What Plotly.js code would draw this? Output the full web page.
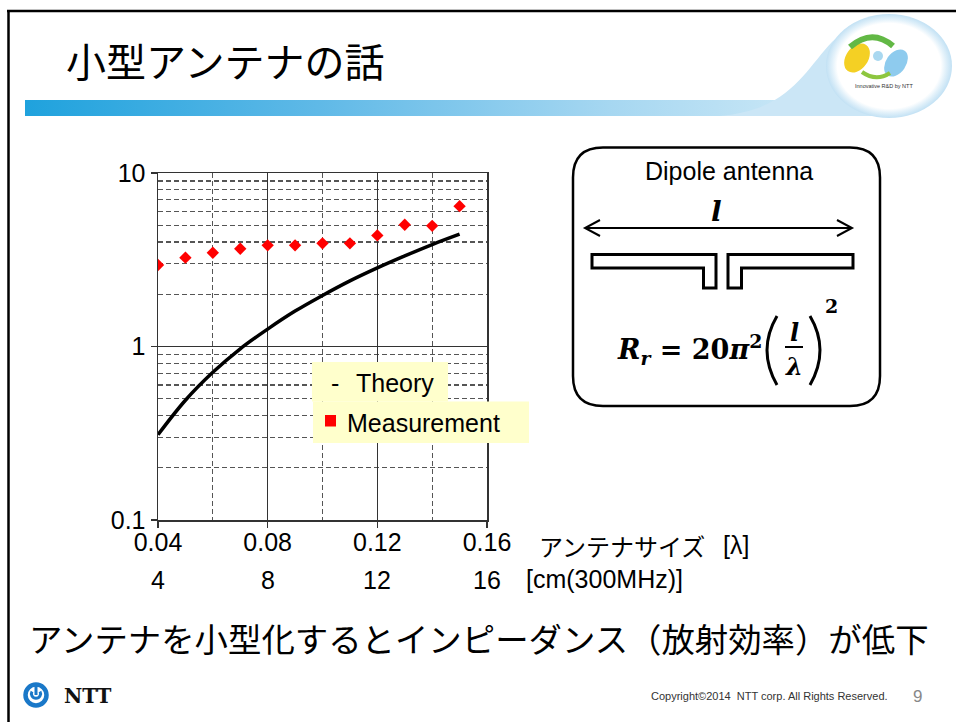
<!DOCTYPE html>
<html>
<head>
<meta charset="utf-8">
<script src="https://cdn.plot.ly/plotly-3.0.1.min.js"></script>
<style>html,body{margin:0;padding:0;background:#fff;}#chart{width:956px;height:722px;}</style>
</head>
<body>
<div id="chart"></div>
<script>
// ---------- data ----------
const sizeLambda = [0.04, 0.05, 0.06, 0.07, 0.08, 0.09, 0.10, 0.11, 0.12, 0.13, 0.14, 0.15];
const theoryR    = [0.31, 0.49, 0.71, 0.97, 1.26, 1.60, 1.97, 2.39, 2.84, 3.33, 3.87, 4.44];
const measuredR  = [2.95, 3.25, 3.47, 3.66, 3.83, 3.83, 3.93, 3.93, 4.37, 5.03, 4.96, 6.44];
const xTickVals  = [0.04, 0.08, 0.12, 0.16];
const xTickText  = ['0.04', '0.08', '0.12', '0.16'];
const cmTickText = ['4', '8', '12', '16'];
const xMinorVals = [0.06, 0.10, 0.14];
const yTickVals  = [0.1, 1, 10];
const yTickText  = ['0.1', '1', '10'];
const yMinorVals = [0.2, 0.3, 0.4, 0.5, 0.6, 0.7, 0.8, 0.9, 2, 3, 4, 5, 6, 7, 8, 9];
const seriesNames = ['Theory', 'Measurement'];
const titleText = '小型アンテナの話';
const bottomText = 'アンテナを小型化するとインピーダンス（放射効率）が低下';

// ---------- geometry helpers (pixel -> paper) ----------
const W = 956, H = 722, L = 158, T = 173, PW = 329, PH = 347;
const px = x => (x - L) / PW;
const py = y => (T + PH - y) / PH;
const P = (x, y) => px(x).toFixed(5) + ',' + py(y).toFixed(5);

const SANS = 'Liberation Sans, Arial, sans-serif';
const CJK = 'Noto Sans CJK JP, sans-serif';

// ---------- decorative images ----------
const headerSvg = `<svg xmlns="http://www.w3.org/2000/svg" width="956" height="130" viewBox="0 0 956 130">
<defs>
<linearGradient id="bar" x1="0" y1="0" x2="1" y2="0">
<stop offset="0" stop-color="#1fa2dd"/><stop offset="0.35" stop-color="#5fb9e7"/>
<stop offset="0.7" stop-color="#a6d7f1"/><stop offset="1" stop-color="#d4ecf8"/></linearGradient>
<radialGradient id="halo" cx="0.5" cy="0.5" r="0.5">
<stop offset="0.82" stop-color="#ffffff"/><stop offset="0.9" stop-color="#e2f1fa"/><stop offset="1" stop-color="#c2e1f4"/></radialGradient>
</defs>
<rect x="25" y="100" width="835" height="16" fill="url(#bar)"/>
<path d="M 720 116 C 790 110 805 70 832 42 C 850 24 872 16 892 16 L 900 116 Z" fill="#cbe6f6"/>
<ellipse cx="889" cy="66" rx="63" ry="52" fill="url(#halo)"/>
<ellipse cx="857" cy="58" rx="11" ry="16" transform="rotate(35 857 58)" fill="#f4d024"/>
<path d="M 850 47 Q 872 28 893 46" stroke="#62b845" stroke-width="6" fill="none"/>
<ellipse cx="896" cy="63" rx="10" ry="15" transform="rotate(35 896 63)" fill="#8ecbee"/>
<path d="M 862 72 Q 876 82 890 73" stroke="#8dc63f" stroke-width="4" fill="none"/>
<circle cx="878" cy="56" r="5" fill="#a9d8f0"/>
</svg>`;
const nttSvg = `<svg xmlns="http://www.w3.org/2000/svg" width="40" height="40" viewBox="0 0 40 40">
<circle cx="16" cy="19" r="10.5" stroke="#1a78c8" stroke-width="4.5" fill="none"/>
<path d="M 12 15.5 A 4.6 4.6 0 1 0 20 15.5" stroke="#1a78c8" stroke-width="3" fill="none"/>
<line x1="16" y1="8.5" x2="16" y2="19" stroke="#1a78c8" stroke-width="3"/>
</svg>`;
const uri = s => 'data:image/svg+xml;charset=utf-8,' + encodeURIComponent(s);

// ---------- traces ----------
const traces = [
  {x: sizeLambda, y: theoryR, name: seriesNames[0], type: 'scatter', mode: 'lines',
   line: {color: '#000', width: 3.5, shape: 'spline'}, hoverinfo: 'x+y'},
  {x: sizeLambda, y: measuredR, name: seriesNames[1], type: 'scatter', mode: 'markers',
   marker: {symbol: 'diamond', size: 9.5, color: '#ff0000', line: {width: 0}}, hoverinfo: 'x+y'}
];

// ---------- shapes ----------
const shapes = [];
// slide frame
shapes.push({type: 'line', xref: 'paper', yref: 'paper', x0: px(7), x1: px(956), y0: py(11), y1: py(11), line: {color: '#000', width: 2.5}});
shapes.push({type: 'line', xref: 'paper', yref: 'paper', x0: px(8.5), x1: px(8.5), y0: py(10), y1: py(722), line: {color: '#000', width: 2.5}});
// legend boxes
shapes.push({type: 'rect', xref: 'paper', yref: 'paper', x0: px(312), x1: px(448), y0: py(362), y1: py(401.5), fillcolor: '#ffffcc', line: {width: 0}, layer: 'above'});
shapes.push({type: 'rect', xref: 'paper', yref: 'paper', x0: px(313), x1: px(529), y0: py(401.5), y1: py(443), fillcolor: '#ffffcc', line: {width: 0}, layer: 'above'});
shapes.push({type: 'rect', xref: 'paper', yref: 'paper', x0: px(325), x1: px(336), y0: py(415), y1: py(426.5), fillcolor: '#ff0000', line: {width: 0}, layer: 'above'});
// dipole box (rounded rect)
(function () {
  const x0 = 573, x1 = 880, y0 = 147.5, y1 = 406, r = 30;
  const d = `M ${P(x0 + r, y0)} L ${P(x1 - r, y0)} Q ${P(x1, y0)} ${P(x1, y0 + r)} L ${P(x1, y1 - r)} Q ${P(x1, y1)} ${P(x1 - r, y1)} L ${P(x0 + r, y1)} Q ${P(x0, y1)} ${P(x0, y1 - r)} L ${P(x0, y0 + r)} Q ${P(x0, y0)} ${P(x0 + r, y0)} Z`;
  shapes.push({type: 'path', xref: 'paper', yref: 'paper', path: d, line: {color: '#000', width: 2.5}, fillcolor: 'rgba(0,0,0,0)'});
})();
// arrow
shapes.push({type: 'path', xref: 'paper', yref: 'paper', path: `M ${P(585, 228)} L ${P(852, 228)}`, line: {color: '#000', width: 2}});
shapes.push({type: 'path', xref: 'paper', yref: 'paper', path: `M ${P(600, 220)} L ${P(585, 228)} L ${P(600, 236)}`, line: {color: '#000', width: 2}});
shapes.push({type: 'path', xref: 'paper', yref: 'paper', path: `M ${P(837, 220)} L ${P(852, 228)} L ${P(837, 236)}`, line: {color: '#000', width: 2}});
// dipole arms
shapes.push({type: 'path', xref: 'paper', yref: 'paper',
  path: `M ${P(592, 254.5)} L ${P(716, 254.5)} L ${P(716, 288)} L ${P(703.5, 288)} L ${P(703.5, 268)} L ${P(592, 268)} Z`,
  line: {color: '#000', width: 3}, fillcolor: '#fff'});
shapes.push({type: 'path', xref: 'paper', yref: 'paper',
  path: `M ${P(728, 254.5)} L ${P(853, 254.5)} L ${P(853, 268)} L ${P(741.5, 268)} L ${P(741.5, 288)} L ${P(728, 288)} Z`,
  line: {color: '#000', width: 3}, fillcolor: '#fff'});
// formula parentheses and fraction bar
shapes.push({type: 'path', xref: 'paper', yref: 'paper', path: `M ${P(777, 316)} Q ${P(757, 350)} ${P(777, 385)}`, line: {color: '#000', width: 3}});
shapes.push({type: 'path', xref: 'paper', yref: 'paper', path: `M ${P(810, 316)} Q ${P(830, 350)} ${P(810, 385)}`, line: {color: '#000', width: 3}});
shapes.push({type: 'line', xref: 'paper', yref: 'paper', x0: px(785), x1: px(803), y0: py(347), y1: py(347), line: {color: '#000', width: 2}});

// ---------- annotations ----------
function txt(text, x, y, size, opts) {
  return Object.assign({text: text, xref: 'paper', yref: 'paper', x: px(x), y: py(y), showarrow: false,
    xanchor: 'left', yanchor: 'middle', font: {family: SANS, size: size, color: '#000'}}, opts || {});
}
const annotations = [
  txt(titleText, 64, 60, 40, {font: {family: CJK, size: 40, color: '#000'}}),
  txt(bottomText, 27, 637, 33.4, {font: {family: CJK, size: 33.4, color: '#000'}}),
  // legend texts
  txt('-', 329, 383, 25),
  txt(seriesNames[0], 354, 383, 25),
  txt(seriesNames[1], 345, 423, 25),
  // axis extra labels
  txt('アンテナサイズ', 537, 545, 24, {font: {family: CJK, size: 24, color: '#000'}}),
  txt('[λ]', 721, 545, 25),
  txt('[cm(300MHz)]', 524, 579, 25),
  // dipole panel
  txt('Dipole antenna', 728.5, 171, 25, {xanchor: 'center'}),
  txt('<b><i>l</i></b>', 716, 211, 28, {xanchor: 'center', font: {family: 'DejaVu Serif, serif', size: 28, color: '#000'}}),
  txt('<b><i>R<sub>r</sub></i> = 20<i>π</i><sup>2</sup></b>', 764, 349, 27, {xanchor: 'right', font: {family: 'DejaVu Serif, serif', size: 27, color: '#000'}}),
  txt('<b><i>l</i></b>', 794, 332, 24, {xanchor: 'center', font: {family: 'DejaVu Serif, serif', size: 24, color: '#000'}}),
  txt('<b><i>λ</i></b>', 794, 366, 24, {xanchor: 'center', font: {family: 'DejaVu Serif, serif', size: 24, color: '#000'}}),
  txt('<b>2</b>', 831, 306, 19, {xanchor: 'center', font: {family: 'DejaVu Serif, serif', size: 19, color: '#000'}}),
  // logo / footer
  txt('Innovative R&D by NTT', 884, 86, 5.5, {xanchor: 'center', font: {family: SANS, size: 5.5, color: '#333'}}),
  txt('<b>NTT</b>', 62, 696, 20, {font: {family: 'DejaVu Serif, serif', size: 20, color: '#111'}}),
  txt('Copyright©2014  NTT corp. All Rights Reserved.', 649, 696, 11, {font: {family: 'Liberation Sans Narrow, Liberation Sans, sans-serif', size: 11, color: '#333'}}),
  txt('9', 917, 696, 17, {xanchor: 'center', font: {family: SANS, size: 17, color: '#888'}})
];
// second row of x labels (cm at 300 MHz)
xTickVals.forEach((v, i) => {
  annotations.push({text: cmTickText[i], xref: 'x', yref: 'paper', x: v, y: py(580), showarrow: false,
    xanchor: 'center', yanchor: 'middle', font: {family: SANS, size: 25, color: '#000'}});
});

// ---------- layout ----------
const layout = {
  width: W, height: H, autosize: false,
  margin: {l: L, r: W - L - PW, t: T, b: H - T - PH, pad: 0},
  paper_bgcolor: '#fff', plot_bgcolor: '#fff',
  showlegend: false,
  xaxis: {
    type: 'linear', range: [0.04, 0.16], tickmode: 'array', tickvals: xTickVals, ticktext: xTickText,
    ticks: 'outside', ticklen: 6, tickwidth: 1.5, tickcolor: '#333', ticklabelstandoff: -7,
    showline: true, mirror: true, linecolor: '#333', linewidth: 1.5,
    showgrid: true, gridcolor: '#333', gridwidth: 1, zeroline: false,
    tickfont: {family: SANS, size: 25, color: '#000'},
    minor: {tickmode: 'array', tickvals: xMinorVals, showgrid: true, gridcolor: '#555', gridwidth: 1.2, griddash: '5px,3px', ticks: ''}
  },
  yaxis: {
    type: 'log', range: [-1, 1], tickmode: 'array', tickvals: yTickVals, ticktext: yTickText,
    ticks: 'outside', ticklen: 6, tickwidth: 1.5, tickcolor: '#333',
    showline: true, mirror: true, linecolor: '#333', linewidth: 1.5,
    showgrid: true, gridcolor: '#333', gridwidth: 1, zeroline: false,
    tickfont: {family: SANS, size: 25, color: '#000'},
    minor: {tickmode: 'array', tickvals: yMinorVals, showgrid: true, gridcolor: '#555', gridwidth: 1.2, griddash: '5px,3px', ticks: ''}
  },
  shapes: shapes,
  annotations: annotations,
  images: [
    {source: uri(headerSvg), xref: 'paper', yref: 'paper', x: px(0), y: py(0), sizex: W / PW, sizey: 130 / PH,
     xanchor: 'left', yanchor: 'top', sizing: 'stretch', layer: 'below'},
    {source: uri(nttSvg), xref: 'paper', yref: 'paper', x: px(20), y: py(676), sizex: 40 / PW, sizey: 40 / PH,
     xanchor: 'left', yanchor: 'top', sizing: 'stretch', layer: 'above'}
  ]
};

Plotly.newPlot('chart', traces, layout, {staticPlot: true, displayModeBar: false});
</script>
</body>
</html>
